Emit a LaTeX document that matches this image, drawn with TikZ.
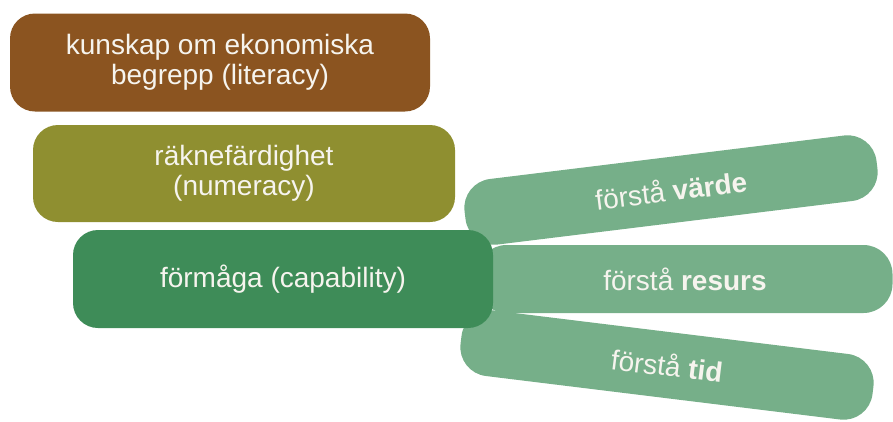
\documentclass[tikz,border=0pt]{standalone}
\usepackage{fontspec}
\setmainfont{Liberation Sans}
\definecolor{cbrown}{RGB}{139,84,32}
\definecolor{colive}{RGB}{143,143,48}
\definecolor{cdgreen}{RGB}{62,140,88}
\definecolor{clgreen}{RGB}{118,175,137}
\definecolor{ctext}{RGB}{246,244,238}
\begin{document}
\begin{tikzpicture}[x=1pt,y=-1pt,
  box/.style={rounded corners=25pt, minimum width=420pt, minimum height=98pt, inner sep=0pt,
    text=ctext, align=center, font=\fontsize{28pt}{30pt}\selectfont},
  bar/.style={fill=clgreen, rounded corners=29pt, minimum width=415pt, minimum height=66pt, inner sep=0pt,
    text=ctext, font=\fontsize{28pt}{30pt}\selectfont}]
\useasboundingbox (0,0) rectangle (893,421);
% bars
\node[bar, rotate=7] (varde) at (671,190) {förstå \textbf{värde}};
\node[bar, minimum height=68pt] (resurs) at (685,279) {förstå \textbf{resurs}};
\node[bar, rotate=-7] (tid) at (667,365) {förstå \textbf{tid}};
% boxes
\node[box, fill=cbrown] (literacy) at (220,62.5) {kunskap om ekonomiska\\begrepp (literacy)};
\node[box, fill=colive, minimum width=422pt, minimum height=97pt] (numeracy) at (244,173.5) {räknefärdighet\\(numeracy)};
\node[box, fill=cdgreen] (capability) at (283,279) {förmåga (capability)};
\end{tikzpicture}
\end{document}
